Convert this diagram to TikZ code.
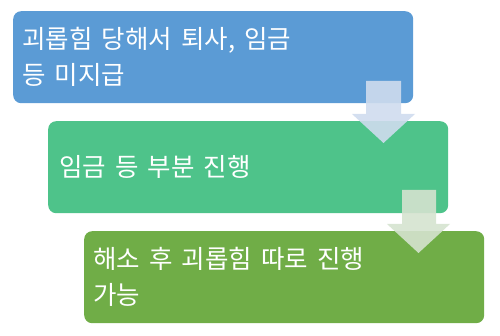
\documentclass[tikz,border=0pt]{standalone}
\usepackage{fontspec}
\newfontfamily\kr[WordSpace=1.6]{Noto Sans CJK KR}
\usetikzlibrary{calc}
\definecolor{boxblue}{HTML}{5B9BD5}
\definecolor{boxgreen}{HTML}{4EC38A}
\definecolor{boxolive}{HTML}{70AD47}
\definecolor{arrowblue}{HTML}{CFDCEE}
\definecolor{arrowgreen}{HTML}{D5E3CF}
\tikzset{
  stepbox/.style={rectangle, rounded corners=8pt, draw=none, minimum width=400pt, minimum height=92pt, inner sep=0pt, anchor=north west},
  steptext/.style={anchor=west, inner sep=0pt, align=left, text=white, font=\kr\fontsize{25.5}{36}\selectfont},
  downarrow/.style={draw=none, fill opacity=0.9}
}
\begin{document}
\begin{tikzpicture}[x=1pt,y=-1pt]
\useasboundingbox (0,0) rectangle (500,336);
\node[stepbox, fill=boxblue] (b1) at (13,11) {};
\node[stepbox, fill=boxgreen] (b2) at (48,121) {};
\node[stepbox, fill=boxolive] (b3) at (84,231) {};
\node[steptext] (t1) at ($(b1.west)+(9,0)$) {괴롭힘 당해서 퇴사, 임금\\등 미지급};
\node[steptext] (t2) at ($(b2.west)+(11,0)$) {임금 등 부분 진행};
\node[steptext] (t3) at ($(b3.west)+(9,0)$) {해소 후 괴롭힘 따로 진행\\가능};
\fill[downarrow, fill=arrowblue] (366,81) -- (401,81) -- (401,114) -- (415,114) -- (383.5,143) -- (352,114) -- (366,114) -- cycle;
\fill[downarrow, fill=arrowgreen] (402,190) -- (436,190) -- (436,224) -- (450,224) -- (418.5,253) -- (387,224) -- (402,224) -- cycle;
\end{tikzpicture}
\end{document}
